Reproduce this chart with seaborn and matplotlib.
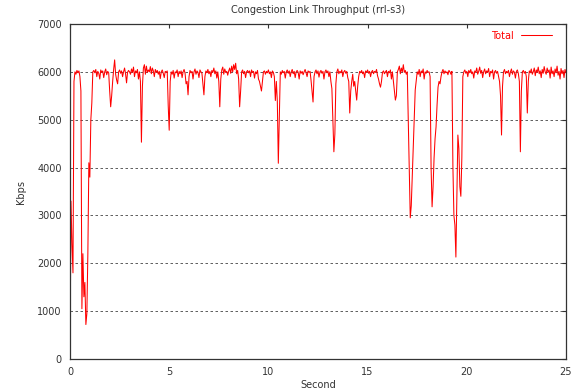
import numpy as np
import pandas as pd
import matplotlib
matplotlib.use("Agg")
import matplotlib.pyplot as plt
import seaborn as sns

# Sample interval of the throughput trace (seconds)
step = 0.05

# Link throughput in Kbps, one row per second of the trace (20 samples each)
throughput = [
    0, 3300, 2400, 1800, 5800, 6000, 5950, 6030, 5980, 6020, 5900, 5600, 1050, 2200, 1300, 1600, 720, 950, 2200, 4100,
    3800, 5000, 5350, 6000, 6030, 5980, 6050, 5900, 6010, 5970, 5850, 6040, 5990, 6020, 5880, 6000, 6060, 5940, 6010, 5980,
    5600, 5270, 5500, 5800, 6050, 6250, 5950, 5830, 5750, 6000, 6040, 5970, 6020, 5900, 6000, 6080, 5960, 5770, 5990, 6030,
    6000, 5950, 6060, 5990, 6100, 5900, 6020, 5980, 6050, 5850, 6000, 5800, 4530, 5700, 6080, 6150, 5950, 6120, 5990, 6040,
    6000, 6110, 5960, 6080, 6020, 5900, 6050, 5990, 6030, 5950, 6010, 5860, 6000, 6040, 5970, 5880, 6010, 5990, 6020, 5300,
    4780, 5800, 6000, 5950, 6030, 5870, 6000, 5980, 6040, 5900, 6010, 5960, 6020, 5880, 6000, 6050, 5970, 5750, 5800, 5520,
    5900, 6030, 5980, 6010, 5850, 6000, 6060, 5950, 6020, 5990, 5880, 6040, 6000, 5970, 5750, 5520, 5900, 6020, 5980, 6050,
    5960, 6010, 5900, 6030, 5990, 6080, 5960, 6020, 5870, 6000, 5800, 5270, 5850, 6040, 6100, 5950, 6060, 5990, 6010, 5930,
    6020, 6080, 5970, 6120, 6000, 6150, 6050, 6180, 5960, 6030, 5850, 5270, 5600, 6000, 6040, 5960, 6010, 5880, 6000, 6030,
    5980, 6020, 5900, 6040, 5990, 6010, 5870, 6000, 5960, 6030, 5850, 5800, 5700, 5600, 5800, 6000, 6020, 5950, 6010, 5980,
    6040, 5960, 6000, 5880, 6020, 5990, 5900, 5400, 5800, 5380, 4090, 5000, 6000, 5950, 6030, 5980, 6010, 5870, 6000, 6040,
    5970, 6020, 5900, 6000, 6050, 5960, 6010, 5880, 6000, 6030, 5990, 5850, 6020, 5970, 6010, 5940, 6000, 6050, 5980, 5900,
    6020, 5990, 6010, 5820, 5600, 5370, 5900, 6000, 6040, 5960, 6020, 5890, 6000, 6030, 5970, 6010, 5850, 6000, 6040, 5980,
    6020, 5900, 6000, 5800, 5650, 5000, 4330, 4700, 5750, 6000, 6060, 5960, 6010, 5980, 6040, 5900, 6000, 6030, 5970, 6010,
    5880, 5800, 5140, 5600, 5800, 5950, 5700, 5800, 5600, 5410, 5700, 5900, 6010, 5980, 6030, 5960, 6000, 5880, 6020, 5990,
    6040, 5970, 6010, 5900, 6000, 6030, 5960, 6010, 5990, 6050, 5920, 5850, 5750, 5680, 5800, 5990, 6020, 5960, 6000, 6030,
    5900, 6010, 5980, 6040, 5850, 6000, 5800, 5600, 5410, 5500, 6000, 6050, 6120, 5960, 6080, 6000, 6150, 5990, 6030, 5950,
    6000, 4990, 4000, 2950, 3200, 3800, 4370, 5000, 5620, 5800, 6000, 5950, 6050, 5900, 6020, 5980, 6060, 5850, 6000, 5970,
    6030, 5990, 6000, 5900, 4000, 3180, 3600, 4200, 4600, 4850, 5300, 5680, 5800, 5750, 5900, 6000, 6050, 5960, 6020, 5980,
    6000, 5940, 6030, 6000, 5950, 6010, 4010, 3000, 2800, 2130, 3400, 4680, 4400, 3600, 3400, 4200, 5900, 6000, 6040, 5970,
    6010, 5900, 6030, 5980, 6050, 5960, 6000, 5870, 6020, 5990, 6080, 5950, 6010, 6100, 5970, 6030, 5880, 6000, 6060, 5960,
    6020, 5990, 6070, 5900, 6010, 5980, 6040, 5850, 6000, 6030, 5970, 6010, 5900, 5800, 5500, 4680, 5700, 6000, 6050, 5960,
    6010, 5980, 6030, 5900, 6000, 6060, 5950, 6020, 5990, 5870, 6010, 6040, 5960, 5800, 4330, 5600, 6000, 6030, 5970, 6010,
    5900, 5140, 5800, 6020, 5980, 6060, 5950, 6000, 6080, 5920, 6040, 5990, 6100, 5960, 6020, 5880, 6050, 5970, 6110, 6000,
    5950, 6080, 5990, 6040, 5870, 6100, 5960, 6020, 5900, 6060, 5980, 6120, 5930, 6010, 5850, 6070, 5960, 6030, 5880, 6050,
    5980,
]

seconds = np.arange(len(throughput)) * step

x_ticks = [0, 5, 10, 15, 20, 25]
y_ticks = [0, 1000, 2000, 3000, 4000, 5000, 6000, 7000]

df = pd.DataFrame({"Second": seconds, "Kbps": throughput, "series": "Total"})

sns.set_style("white")
plt.rcParams["font.family"] = ["DejaVu Sans"]

text_color = "#333333"

fig = plt.figure(figsize=(5.73, 3.89), dpi=100)
ax = fig.add_axes([70 / 573, 30 / 389, 496 / 573, 335 / 389])

sns.lineplot(data=df, x="Second", y="Kbps", hue="series", palette={"Total": "#ff0000"},
             linewidth=0.75, ax=ax, estimator=None, sort=False)

ax.set_xlim(0, 25)
ax.set_ylim(0, 7000)
ax.set_xticks(x_ticks)
ax.set_yticks(y_ticks)
ax.set_xticklabels([str(v) for v in x_ticks], fontsize=7, color=text_color)
ax.set_yticklabels([str(v) for v in y_ticks], fontsize=7, color=text_color)

# Dashed horizontal grid at the inner y ticks
for yv in y_ticks[1:-1]:
    ax.axhline(yv, color="#444444", linestyle=(0, (3, 3)), linewidth=0.6, zorder=0)

ax.tick_params(axis="both", direction="in", length=3, width=0.8, top=True, right=True,
               colors="#333333", pad=6)

for spine in ax.spines.values():
    spine.set_color("#333333")
    spine.set_linewidth(0.9)

ax.set_title("Congestion Link Throughput (rrl-s3)", fontsize=7, color=text_color, pad=8)
ax.set_xlabel("Second", fontsize=7, color=text_color, labelpad=2)
ax.set_ylabel("Kbps", fontsize=7, color=text_color, labelpad=8)

leg = ax.legend(loc="upper right", bbox_to_anchor=(0.985, 1.0), frameon=False, fontsize=7,
                markerfirst=False, handlelength=3.2, handletextpad=0.7, borderaxespad=0.3)
for txt in leg.get_texts():
    txt.set_color("#ff0000")

fig.savefig("out.png", dpi=100)
